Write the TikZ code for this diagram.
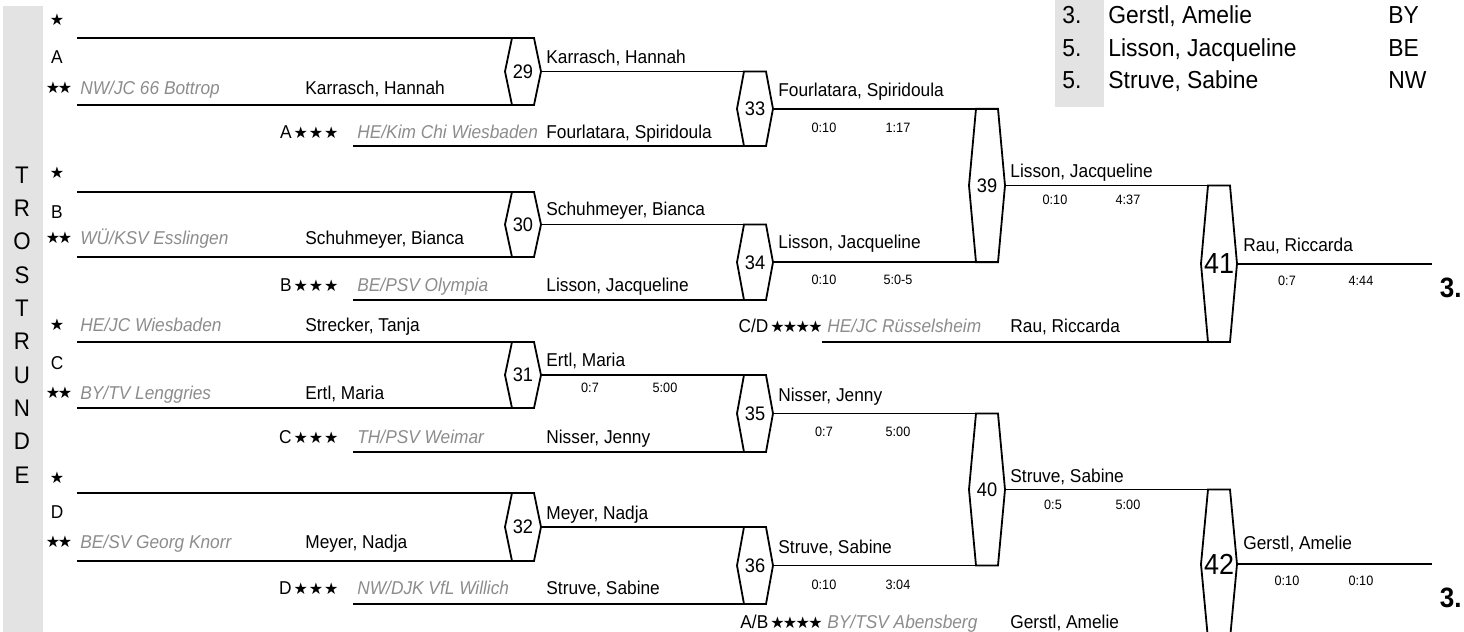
\documentclass[tikz,border=0pt]{standalone}
\usepackage{fontspec}
\setmainfont[FakeStretch=0.93]{Liberation Sans}
\newfontfamily\symfont{DejaVu Sans}
\usepackage{tikz}
\usetikzlibrary{positioning}
\definecolor{clubgray}{RGB}{140,140,140}
\definecolor{bandgray}{RGB}{227,227,227}
\newcommand\starmark[1]{{\symfont\fontsize{8}{8}\selectfont\raisebox{0.3pt}{#1}}}

\begin{document}
\begin{tikzpicture}[x=0.5pt,y=-0.5pt,
    bar/.style={line width=0.9pt},
    plr/.style={anchor=base west,yshift=-3.3pt,inner sep=0pt,font=\fontsize{9.3}{11}\selectfont},
    club/.style={plr,text=clubgray,font=\fontsize{9.3}{11}\selectfont\itshape},
    seed/.style={anchor=base,yshift=-3.3pt,inner sep=0pt,font=\fontsize{9.3}{11}\selectfont},
    starnode/.style={inner sep=0pt,font=\symfont\fontsize{8}{8}\selectfont},
    score/.style={anchor=base,yshift=-2.4pt,inner sep=0pt,font=\fontsize{6.8}{8}\selectfont},
    hexa/.style={minimum width=18pt,minimum height=#1,inner sep=0pt,outer sep=0pt,font=\fontsize{9.8}{11}\selectfont},
    bighexa/.style={hexa=#1,font=\fontsize{14.5}{16}\selectfont},
    rank/.style={anchor=base east,yshift=-5pt,inner sep=0pt,font=\fontsize{14}{16}\selectfont\bfseries},
    tabrow/.style={anchor=base west,yshift=-4.4pt,inner sep=0pt,font=\fontsize{12.3}{14}\selectfont}]
  \useasboundingbox (0,0) rectangle (1464,632);
  \clip (0,0) rectangle (1464,632);

  % side band and result table
  \fill[bandgray] (3,6) rectangle (43,632);
  \node[align=center,inner sep=0pt,font=\fontsize{12}{16.67}\selectfont] (trost) at (22,325)
       {T\\R\\O\\S\\T\\R\\U\\N\\D\\E};
  \fill[bandgray] (1055,0) rectangle (1104,107);
  \node[tabrow] (t1r) at (1062,15) {3.};
  \node[tabrow] (t1n) at (1108,15) {Gerstl, Amelie};
  \node[tabrow] (t1c) at (1388,15) {BY};
  \node[tabrow] (t2r) at (1062,48) {5.};
  \node[tabrow] (t2n) at (1108,48) {Lisson, Jacqueline};
  \node[tabrow] (t2c) at (1388,48) {BE};
  \node[tabrow] (t3r) at (1062,80) {5.};
  \node[tabrow] (t3n) at (1108,80) {Struve, Sabine};
  \node[tabrow] (t3c) at (1388,80) {NW};

  % fight boxes
  \node[hexa=33.5pt] (m29) at (523,71.5) {29};
  \node[hexa=32.5pt] (m30) at (523,224.5) {30};
  \node[hexa=33pt] (m31) at (523,375) {31};
  \node[hexa=34pt] (m32) at (523,527) {32};
  \node[hexa=37.25pt] (m33) at (755,108.75) {33};
  \node[hexa=37.75pt] (m34) at (755,262.25) {34};
  \node[hexa=38.5pt] (m35) at (755,413.5) {35};
  \node[hexa=38.5pt] (m36) at (755,565.5) {36};
  \node[hexa=76.75pt] (m39) at (987,185.5) {39};
  \node[hexa=76pt] (m40) at (987,489.5) {40};
  \node[bighexa=78.25pt] (m41) at (1219,263.75) {41};
  \node[bighexa=74.75pt] (m42) at (1219,564.25) {42};
  \foreach \m in {29,30,31,32,33,34,35,36,39,40,41,42}
    \draw[bar] ([xshift=3.5pt]m\m.north west) -- ([xshift=-3.5pt]m\m.north east) -- (m\m.east)
      -- ([xshift=-3.5pt]m\m.south east) -- ([xshift=3.5pt]m\m.south west) -- (m\m.west) -- cycle;

  % block A
  \node[starnode] (sa1) at (57,20) {★};
  \node[seed] (la) at (57,57) {A};
  \node[starnode] (sa2) at (59,88) {★\hspace{-1.2pt}★};
  \node[club] (ca2) at (80,88) {NW/JC 66 Bottrop};
  \node[plr] (pa2) at (305,88) {Karrasch, Hannah};
  \node[seed,anchor=base east] (sa3) at (339,132) {A\hspace{1pt}\starmark{★\hspace{0.5pt}★\hspace{0.5pt}★}};
  \node[club] (ca3) at (357,132) {HE/Kim Chi Wiesbaden};
  \node[plr] (pa3) at (546,132) {Fourlatara, Spiridoula};
  \coordinate (ea1) at (77,38);
  \coordinate (ea2) at (77,105);
  \coordinate (ea3) at (353,146);
  \draw[bar] (ea1) -- ([xshift=-3.5pt]m29.north east);
  \draw[bar] (ea2) -- ([xshift=-3.5pt]m29.south east);
  \draw[bar] (ea3) -- ([xshift=-3.5pt]m33.south east);

  % block B
  \node[starnode] (sb1) at (57,173) {★};
  \node[seed] (lb) at (57,212) {B};
  \node[starnode] (sb2) at (59,238) {★\hspace{-1.2pt}★};
  \node[club] (cb2) at (80,238) {WÜ/KSV Esslingen};
  \node[plr] (pb2) at (305,238) {Schuhmeyer, Bianca};
  \node[seed,anchor=base east] (sb3) at (339,285) {B\hspace{1pt}\starmark{★\hspace{0.5pt}★\hspace{0.5pt}★}};
  \node[club] (cb3) at (357,285) {BE/PSV Olympia};
  \node[plr] (pb3) at (546,285) {Lisson, Jacqueline};
  \coordinate (eb1) at (77,192);
  \coordinate (eb2) at (77,257);
  \coordinate (eb3) at (353,300);
  \draw[bar] (eb1) -- ([xshift=-3.5pt]m30.north east);
  \draw[bar] (eb2) -- ([xshift=-3.5pt]m30.south east);
  \draw[bar] (eb3) -- ([xshift=-3.5pt]m34.south east);

  % block C
  \node[starnode] (sc1) at (57,325) {★};
  \node[club] (cc1) at (80,325) {HE/JC Wiesbaden};
  \node[plr] (pc1) at (305,325) {Strecker, Tanja};
  \node[seed] (lc) at (57,363) {C};
  \node[starnode] (sc2) at (59,393) {★\hspace{-1.2pt}★};
  \node[club] (cc2) at (80,393) {BY/TV Lenggries};
  \node[plr] (pc2) at (305,393) {Ertl, Maria};
  \node[seed,anchor=base east] (sc3) at (339,437) {C\hspace{1pt}\starmark{★\hspace{0.5pt}★\hspace{0.5pt}★}};
  \node[club] (cc3) at (357,437) {TH/PSV Weimar};
  \node[plr] (pc3) at (546,437) {Nisser, Jenny};
  \coordinate (ec1) at (77,342);
  \coordinate (ec2) at (77,408);
  \coordinate (ec3) at (353,452);
  \draw[bar] (ec1) -- ([xshift=-3.5pt]m31.north east);
  \draw[bar] (ec2) -- ([xshift=-3.5pt]m31.south east);
  \draw[bar] (ec3) -- ([xshift=-3.5pt]m35.south east);

  % block D
  \node[starnode] (sd1) at (57,478) {★};
  \node[seed] (ld) at (57,512) {D};
  \node[starnode] (sd2) at (59,542) {★\hspace{-1.2pt}★};
  \node[club] (cd2) at (80,542) {BE/SV Georg Knorr};
  \node[plr] (pd2) at (305,542) {Meyer, Nadja};
  \node[seed,anchor=base east] (sd3) at (339,588) {D\hspace{1pt}\starmark{★\hspace{0.5pt}★\hspace{0.5pt}★}};
  \node[club] (cd3) at (357,588) {NW/DJK VfL Willich};
  \node[plr] (pd3) at (546,588) {Struve, Sabine};
  \coordinate (ed1) at (77,493);
  \coordinate (ed2) at (77,561);
  \coordinate (ed3) at (353,604);
  \draw[bar] (ed1) -- ([xshift=-3.5pt]m32.north east);
  \draw[bar] (ed2) -- ([xshift=-3.5pt]m32.south east);
  \draw[bar] (ed3) -- ([xshift=-3.5pt]m36.south east);

  % second round
  \draw[bar] (m29.east) -- ([xshift=-3.5pt]m33.north east);
  \draw[bar] (m30.east) -- ([xshift=-3.5pt]m34.north east);
  \draw[bar] (m31.east) -- ([xshift=-3.5pt]m35.north east);
  \draw[bar] (m32.east) -- ([xshift=-3.5pt]m36.north east);
  \node[plr] (w29) at (546,57) {Karrasch, Hannah};
  \node[plr] (w30) at (546,209) {Schuhmeyer, Bianca};
  \node[plr] (w31) at (546,360) {Ertl, Maria};
  \node[score] (w31a) at (590,388) {0:7};
  \node[score] (w31b) at (665,388) {5:00};
  \node[plr] (w32) at (546,513) {Meyer, Nadja};

  % third round
  \draw[bar] (m33.east) -- ([xshift=-3.5pt]m39.north east);
  \draw[bar] (m34.east) -- ([xshift=-3.5pt]m39.south east);
  \draw[bar] (m35.east) -- ([xshift=-3.5pt]m40.north east);
  \draw[bar] (m36.east) -- ([xshift=-3.5pt]m40.south east);
  \node[plr] (w33) at (778,90) {Fourlatara, Spiridoula};
  \node[score] (w33a) at (824,128) {0:10};
  \node[score] (w33b) at (898,128) {1:17};
  \node[plr] (w34) at (778,242) {Lisson, Jacqueline};
  \node[score] (w34a) at (824,280) {0:10};
  \node[score] (w34b) at (898,280) {5:0-5};
  \node[plr] (w35) at (778,395) {Nisser, Jenny};
  \node[score] (w35a) at (824,432) {0:7};
  \node[score] (w35b) at (898,432) {5:00};
  \node[plr] (w36) at (778,547) {Struve, Sabine};
  \node[score] (w36a) at (824,585) {0:10};
  \node[score] (w36b) at (898,585) {3:04};

  % repechage entries
  \node[seed,anchor=base east] (scd) at (823,326) {C/D\hspace{1pt}\starmark{★\hspace{-0.85pt}★\hspace{-0.85pt}★\hspace{-0.85pt}★}};
  \node[club] (ccd) at (827,326) {HE/JC Rüsselsheim};
  \node[plr] (pcd) at (1010,326) {Rau, Riccarda};
  \coordinate (ecd) at (822,342);
  \draw[bar] (ecd) -- ([xshift=-3.5pt]m41.south east);
  \node[seed,anchor=base east] (sab) at (823,622) {A/B\hspace{1pt}\starmark{★\hspace{-0.85pt}★\hspace{-0.85pt}★\hspace{-0.85pt}★}};
  \node[club] (cab) at (827,622) {BY/TSV Abensberg};
  \node[plr] (pab) at (1010,622) {Gerstl, Amelie};
  \coordinate (eab) at (822,639);
  \draw[bar] (eab) -- ([xshift=-3.5pt]m42.south east);

  % fourth round
  \draw[bar] (m39.east) -- ([xshift=-3.5pt]m41.north east);
  \draw[bar] (m40.east) -- ([xshift=-3.5pt]m42.north east);
  \node[plr] (w39) at (1010,171) {Lisson, Jacqueline};
  \node[score] (w39a) at (1055,200) {0:10};
  \node[score] (w39b) at (1128,200) {4:37};
  \node[plr] (w40) at (1010,476) {Struve, Sabine};
  \node[score] (w40a) at (1053,505) {0:5};
  \node[score] (w40b) at (1128,505) {5:00};

  % final places
  \coordinate (o41) at (1432,263.75);
  \coordinate (o42) at (1432,564.25);
  \draw[bar] (m41.east) -- (o41);
  \draw[bar] (m42.east) -- (o42);
  \node[plr] (w41) at (1243,245) {Rau, Riccarda};
  \node[score] (w41a) at (1287,281) {0:7};
  \node[score] (w41b) at (1361,281) {4:44};
  \node[rank] (p41) at (1462,287) {3.};
  \node[plr] (w42) at (1243,543) {Gerstl, Amelie};
  \node[score] (w42a) at (1287,581) {0:10};
  \node[score] (w42b) at (1361,581) {0:10};
  \node[rank] (p42) at (1462,597) {3.};
\end{tikzpicture}
\end{document}
